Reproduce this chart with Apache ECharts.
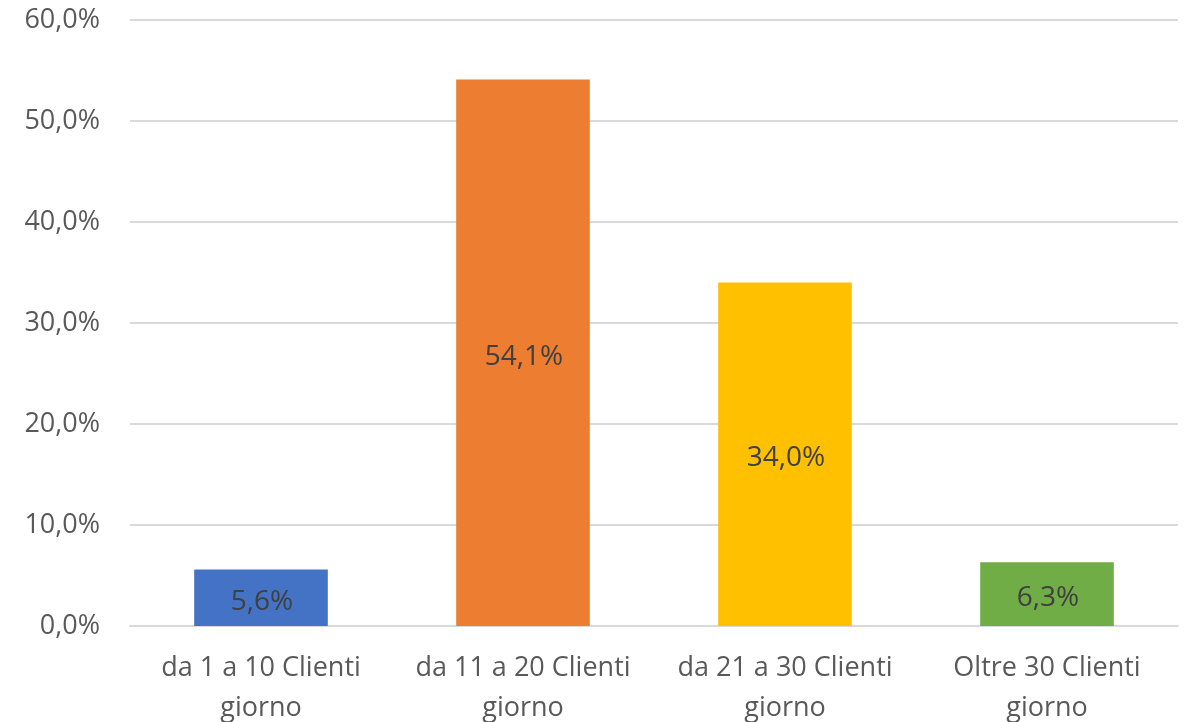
<!DOCTYPE html>
<html>
<head>
<meta charset="utf-8">
<script src="https://cdn.jsdelivr.net/npm/echarts@6/dist/echarts.min.js"></script>
<style>
  html, body { margin: 0; padding: 0; background: #fff; }
  #main { width: 1187px; height: 722px; }
</style>
</head>
<body>
<div id="main"></div>
<script>
  var categories = ['da 1 a 10 Clienti\ngiorno', 'da 11 a 20 Clienti\ngiorno', 'da 21 a 30 Clienti\ngiorno', 'Oltre 30 Clienti\ngiorno'];
  var values = [5.6, 54.1, 34.0, 6.3];
  var barColors = ['#4472C4', '#ED7D31', '#FFC000', '#70AD47'];

  var fmt = function (v) {
    return v.toFixed(1).replace('.', ',') + '%';
  };

  var myChart = echarts.init(document.getElementById('main'));
  var option = {
    animation: false,
    textStyle: { fontFamily: 'Open Sans' },
    grid: { left: 130, right: 9, top: 20, bottom: 96, outerBoundsMode: 'none' },
    xAxis: {
      type: 'category',
      data: categories,
      axisLine: { lineStyle: { color: '#d9d9d9', width: 2 } },
      axisTick: { show: false },
      axisLabel: {
        color: '#595959',
        fontSize: 27,
        lineHeight: 40,
        margin: 22,
        interval: 0
      }
    },
    yAxis: {
      type: 'value',
      min: 0,
      max: 60,
      interval: 10,
      axisLine: { show: false },
      axisTick: { show: false },
      splitLine: { lineStyle: { color: '#d9d9d9', width: 2 } },
      axisLabel: {
        color: '#595959',
        fontSize: 27,
        margin: 30,
        formatter: function (v) { return fmt(v); }
      }
    },
    series: [{
      type: 'bar',
      barWidth: '51%',
      data: values.map(function (v, i) {
        return { value: v, itemStyle: { color: barColors[i] } };
      }),
      label: {
        show: true,
        position: 'inside',
        offset: [1, 4],
        color: '#404040',
        fontSize: 28,
        formatter: function (p) { return fmt(p.value); }
      }
    }]
  };
  myChart.setOption(option);
</script>
</body>
</html>
